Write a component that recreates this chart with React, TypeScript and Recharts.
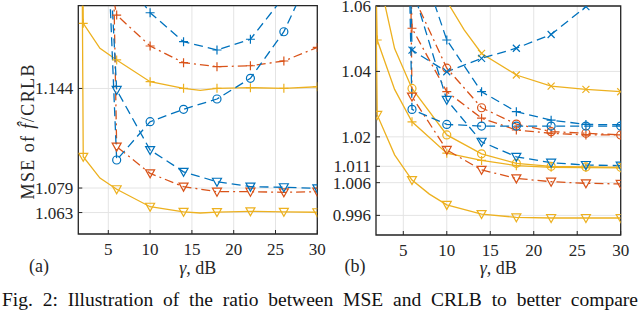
import React from 'react';
import { LineChart, Line, XAxis, YAxis, CartesianGrid, ReferenceArea } from 'recharts';

type Pt = [number, number];

// ---------- shared ----------
const gammaTicks = [5, 10, 15, 20, 25, 30];

// ---------- panel (a) ----------
const aTicksY = [1.063, 1.079, 1.144];
const aYellowPlus: Pt[] = [[0, 3.0], [2, 1.1865], [4, 1.1702], [6, 1.1626], [10, 1.1484], [14, 1.1441], [16, 1.1427], [18, 1.1441], [22, 1.1445], [26, 1.1441], [30, 1.1451]];
const aYellowTri: Pt[] = [[0, 3.0], [2, 1.0994], [4, 1.0855], [6, 1.0782], [10, 1.0668], [14, 1.0635], [16, 1.0627], [18, 1.0633], [22, 1.0638], [26, 1.0635], [30, 1.0632]];
const aRedPlus: Pt[] = [[4, 1.25], [6, 1.1919], [10, 1.1717], [14, 1.1608], [18, 1.1582], [22, 1.1588], [26, 1.1619], [30, 1.1708]];
const aRedTri: Pt[] = [[4, 1.7], [6, 1.106], [10, 1.0886], [14, 1.0799], [18, 1.0766], [22, 1.0766], [26, 1.0762], [30, 1.0766]];
const aBluePlus: Pt[] = [[6, 1.2234], [10, 1.1934], [14, 1.1745], [18, 1.1691], [22, 1.1761], [26, 1.2039], [30, 1.24]];
const aBlueCircle: Pt[] = [[4, 1.36], [6, 1.0973], [10, 1.1223], [14, 1.1304], [18, 1.1371], [22, 1.1506], [26, 1.181], [30, 1.228]];
const aBlueTri: Pt[] = [[4, 1.35], [6, 1.143], [10, 1.1038], [14, 1.0896], [18, 1.0831], [22, 1.0799], [26, 1.0795], [30, 1.0788]];

// ---------- panel (b) ----------
const bTicksY = [0.996, 1.006, 1.011, 1.02, 1.04, 1.06];
const bYellowTri: Pt[] = [[0, 1.5], [2, 1.0267], [4, 1.0145], [6, 1.0068], [8, 1.0025], [10, 0.9992], [14, 0.9964], [18, 0.9954], [22, 0.9952], [26, 0.9952], [30, 0.9952]];
const bYellowPlus: Pt[] = [[0, 1.3], [2, 1.0496], [4, 1.0345], [6, 1.0246], [10, 1.015], [14, 1.0128], [18, 1.0112], [22, 1.0107], [26, 1.0106], [30, 1.0105]];
const bYellowCircle: Pt[] = [[2, 1.071], [4, 1.047], [6, 1.0348], [10, 1.0206], [14, 1.0148], [18, 1.0119], [22, 1.011], [26, 1.0108], [30, 1.0107]];
const bYellowCross: Pt[] = [[10, 1.0615], [12, 1.0527], [14, 1.0455], [18, 1.0389], [22, 1.0355], [26, 1.0345], [30, 1.0338]];
const bRedPlus: Pt[] = [[4, 1.3], [6, 1.0532], [10, 1.0338], [14, 1.0257], [18, 1.0221], [22, 1.0211], [26, 1.0206], [30, 1.0206]];
const bRedCircle: Pt[] = [[6, 1.064], [10, 1.041], [14, 1.0289], [18, 1.0239], [22, 1.0216], [26, 1.0211], [30, 1.0206]];
const bRedTri: Pt[] = [[4, 1.5], [6, 1.0323], [10, 1.016], [14, 1.0099], [18, 1.0073], [22, 1.0063], [26, 1.0058], [30, 1.0056]];
const bBlueCross: Pt[] = [[4, 1.3], [6, 1.0465], [10, 1.0399], [14, 1.044], [18, 1.0471], [22, 1.0513], [26, 1.0598], [30, 1.072]];
const bBluePlus: Pt[] = [[6, 1.081], [10, 1.0496], [14, 1.0338], [18, 1.0277], [22, 1.0251], [26, 1.0238], [30, 1.0237]];
const bBlueCircle: Pt[] = [[4, 1.3], [6, 1.0284], [10, 1.0238], [14, 1.0233], [18, 1.0233], [22, 1.0233], [26, 1.0233], [30, 1.0233]];
const bBlueTri: Pt[] = [[6, 1.066], [10, 1.0313], [14, 1.0185], [18, 1.0139], [22, 1.0121], [26, 1.0114], [30, 1.0112]];

// ---------- styles ----------
const BLUE = '#0072BD';
const RED = '#D95319';
const YELLOW = '#EDB120';
const DASH = '9 5';
const DASHDOT = '9 4 2 4';
const FONT = 'Liberation Serif';
const INK = '#262626';

type Shape = 'plus' | 'circle' | 'tri' | 'cross';
interface Series { id: string; data: Pt[]; color: string; dash?: string; shape: Shape }

const aSeries: Series[] = [
  { id: 'ay+', data: aYellowPlus, color: YELLOW, shape: 'plus' },
  { id: 'ayv', data: aYellowTri, color: YELLOW, shape: 'tri' },
  { id: 'ar+', data: aRedPlus, color: RED, dash: DASHDOT, shape: 'plus' },
  { id: 'arv', data: aRedTri, color: RED, dash: DASHDOT, shape: 'tri' },
  { id: 'ab+', data: aBluePlus, color: BLUE, dash: DASH, shape: 'plus' },
  { id: 'abo', data: aBlueCircle, color: BLUE, dash: DASH, shape: 'circle' },
  { id: 'abv', data: aBlueTri, color: BLUE, dash: DASH, shape: 'tri' },
];

const bSeries: Series[] = [
  { id: 'byv', data: bYellowTri, color: YELLOW, shape: 'tri' },
  { id: 'by+', data: bYellowPlus, color: YELLOW, shape: 'plus' },
  { id: 'byo', data: bYellowCircle, color: YELLOW, shape: 'circle' },
  { id: 'byx', data: bYellowCross, color: YELLOW, shape: 'cross' },
  { id: 'br+', data: bRedPlus, color: RED, dash: DASHDOT, shape: 'plus' },
  { id: 'bro', data: bRedCircle, color: RED, dash: DASHDOT, shape: 'circle' },
  { id: 'brv', data: bRedTri, color: RED, dash: DASHDOT, shape: 'tri' },
  { id: 'bbx', data: bBlueCross, color: BLUE, dash: DASH, shape: 'cross' },
  { id: 'bb+', data: bBluePlus, color: BLUE, dash: DASH, shape: 'plus' },
  { id: 'bbo', data: bBlueCircle, color: BLUE, dash: DASH, shape: 'circle' },
  { id: 'bbv', data: bBlueTri, color: BLUE, dash: DASH, shape: 'tri' },
];

function renderDot(shape: Shape, color: string, ymin: number, ymax: number) {
  return (props: any) => {
    const { cx, cy, payload, index } = props;
    const k = `m${index}`;
    if (cx == null || cy == null || !payload) return <g key={k} />;
    const g = payload.g;
    const v = payload.v;
    if (g < 2 || (g - 2) % 4 !== 0 || v > ymax || v < ymin) return <g key={k} />;
    const s = 4.5;
    const common = { stroke: color, strokeWidth: 1.2, fill: 'none' };
    if (shape === 'plus') {
      return <path key={k} d={`M${cx - s},${cy}H${cx + s}M${cx},${cy - s}V${cy + s}`} {...common} />;
    }
    if (shape === 'cross') {
      const c = 3.5;
      return <path key={k} d={`M${cx - c},${cy - c}L${cx + c},${cy + c}M${cx + c},${cy - c}L${cx - c},${cy + c}`} {...common} />;
    }
    if (shape === 'circle') {
      return <circle key={k} cx={cx} cy={cy} r={4} {...common} />;
    }
    return <path key={k} d={`M${cx - s},${cy - 3.5}L${cx + s},${cy - 3.5}L${cx},${cy + 4.5}Z`} {...common} />;
  };
}

const tickStyle = { fontSize: 17, fill: INK, fontFamily: FONT, style: { fontFamily: FONT } };
const hiddenTick = { fill: 'none', fontSize: 1 };
const tickLineStyle = { stroke: INK, strokeWidth: 1 };

interface PanelProps {
  left: number; width: number; margin: any; yAxisWidth: number;
  xDomain: [number, number]; yDomain: [number, number]; yTicks: number[]; series: Series[];
}

function Panel({ left, width, margin, yAxisWidth, xDomain, yDomain, yTicks, series }: PanelProps) {
  return (
    <div style={{ position: 'absolute', left, top: 0, fontFamily: FONT }}>
      <LineChart width={width} height={312} margin={margin} style={{ fontFamily: FONT }}>
        <CartesianGrid stroke="#e4e4e4" strokeWidth={1} />
        <XAxis dataKey="g" type="number" domain={xDomain} allowDataOverflow ticks={gammaTicks} interval={0}
          tickLine={tickLineStyle} axisLine={false} tick={tickStyle} tickSize={-4} tickMargin={13} height={30} />
        <XAxis xAxisId="top" orientation="top" type="number" domain={xDomain} allowDataOverflow ticks={gammaTicks} interval={0}
          tickLine={tickLineStyle} axisLine={false} tick={hiddenTick} tickSize={-4} tickMargin={0} height={0} />
        <YAxis type="number" domain={yDomain} allowDataOverflow ticks={yTicks} interval={0} width={yAxisWidth}
          tickLine={tickLineStyle} axisLine={false} tick={tickStyle} tickSize={-4} tickMargin={9} />
        <YAxis yAxisId="right" orientation="right" type="number" domain={yDomain} allowDataOverflow ticks={yTicks} interval={0} width={0}
          tickLine={tickLineStyle} axisLine={false} tick={hiddenTick} tickSize={-4} tickMargin={0} />
        <ReferenceArea x1={xDomain[0]} x2={xDomain[1]} y1={yDomain[0]} y2={yDomain[1]}
          fill="none" fillOpacity={0} stroke={INK} strokeWidth={1.3} />
        {series.map((s) => (
          <Line key={s.id} data={s.data.map(([g, v]) => ({ g, v }))} dataKey="v" type="linear"
            stroke={s.color} strokeWidth={1.3} strokeDasharray={s.dash}
            dot={renderDot(s.shape, s.color, yDomain[0], yDomain[1])} activeDot={false}
            isAnimationActive={false} />
        ))}
      </LineChart>
    </div>
  );
}

export default function App() {
  return (
    <div style={{ position: 'absolute', left: 0, top: 0, width: 640, height: 312, background: '#fff', fontFamily: FONT }}>
      <Panel left={0} width={330} margin={{ top: 5.7, right: 12.7, left: 0, bottom: 48 }} yAxisWidth={78.3}
        xDomain={[1.41, 30]} yDomain={[1.049, 1.198]} yTicks={aTicksY} series={aSeries} />
      <Panel left={330} width={310} margin={{ top: 6, right: 19.3, left: 0, bottom: 47 }} yAxisWidth={46}
        xDomain={[1.86, 30]} yDomain={[0.99, 1.06]} yTicks={bTicksY} series={bSeries} />
      <svg width={640} height={312} style={{ position: 'absolute', left: 0, top: 0, pointerEvents: 'none', fontFamily: FONT }}>
        <g fill={INK} fontSize={18} style={{ fontFamily: FONT }}>
          <text x={39} y={272} textAnchor="middle">(a)</text>
          <text x={355} y={272} textAnchor="middle">(b)</text>
          <text x={197.8} y={274} textAnchor="middle"><tspan fontStyle="italic">γ</tspan>, dB</text>
          <text x={498.3} y={274} textAnchor="middle"><tspan fontStyle="italic">γ</tspan>, dB</text>
          <text transform="translate(33.5,132) rotate(-90)" textAnchor="middle" textLength={135} lengthAdjust="spacing">
            MSE of <tspan fontStyle="italic">f̂</tspan>/CRLB
          </text>
        </g>
      </svg>
      <div style={{ position: 'absolute', left: 2, top: 291, width: 636, fontSize: 19.5, lineHeight: '18px', color: '#111',
        textAlign: 'justify', textAlignLast: 'justify', fontFamily: FONT, whiteSpace: 'nowrap' }}>
        Fig. 2: Illustration of the ratio between MSE and CRLB to better compare
      </div>
    </div>
  );
}
